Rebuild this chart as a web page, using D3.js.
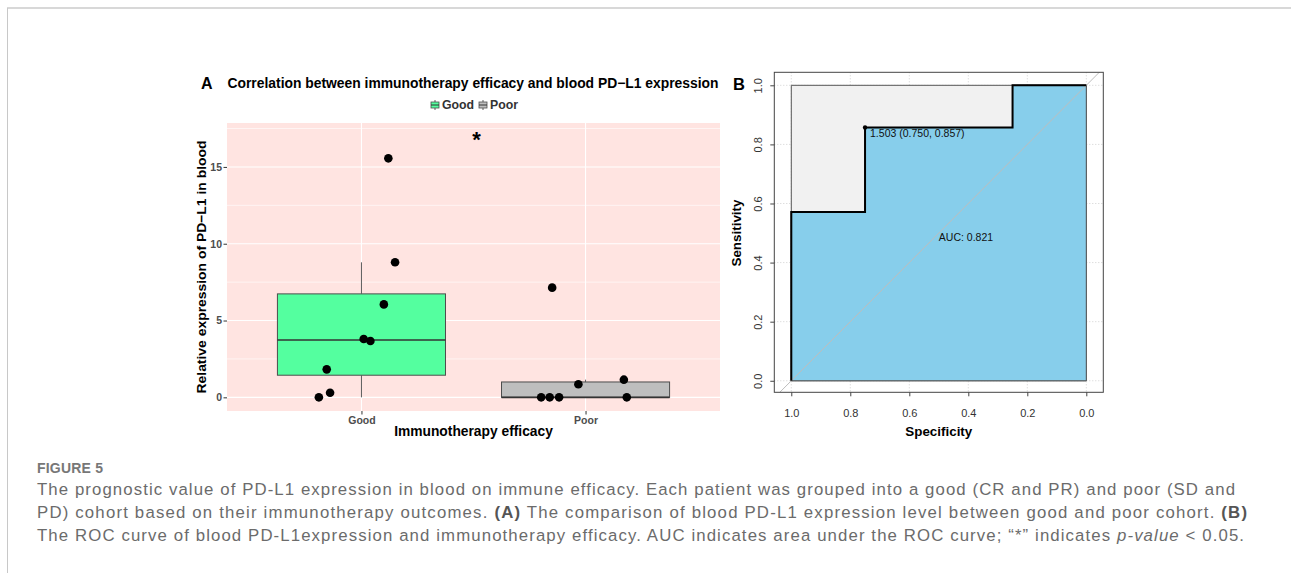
<!DOCTYPE html>
<html>
<head>
<meta charset="utf-8">
<script src="https://cdn.jsdelivr.net/npm/d3@7"></script>
<style>
  body { margin: 0; background: #fff; }
  svg { display: block; }
  text { font-family: Arial, "Liberation Sans", sans-serif; }
</style>
</head>
<body>
<svg id="fig" width="1291" height="573"></svg>
<script>
// ---- data ----
const groups = ['Good', 'Poor'];
const goodValues = [0, 0.30, 1.82, 3.67, 3.80, 6.05, 8.79, 15.56];
const poorValues = [0, 0, 0, 0, 0.85, 1.15, 7.14];
// horizontal jitter of each point, in category units
const goodJitter = [-0.19, -0.14, -0.155, 0.04, 0.01, 0.10, 0.15, 0.12];
const poorJitter = [-0.198, -0.16, -0.118, 0.184, -0.032, 0.171, -0.149];
const yTicksA = [0, 5, 10, 15];
const yMinorA = [2.5, 7.5, 12.5, 17.5];
const sigLabel = '*';
const sigValue = 17.1;

const rocSpec = [1, 1, 0.75, 0.75, 0.25, 0.25, 0];
const rocSens = [0, 0.571, 0.571, 0.857, 0.857, 1, 1];
const rocTicks = [0, 0.2, 0.4, 0.6, 0.8, 1.0];
const bestThreshold = { label: '1.503', spec: 0.750, sens: 0.857 };
const aucValue = 0.821;

const boxFill = { Good: '#54FF9F', Poor: '#BEBEBE' };

const svg = d3.select('#fig');

// page frame
svg.append('line').attr('x1', 7).attr('x2', 1291).attr('y1', 8).attr('y2', 8)
  .attr('stroke', '#d8d8d8').attr('stroke-width', 2);
svg.append('line').attr('x1', 7.5).attr('x2', 7.5).attr('y1', 8).attr('y2', 573)
  .attr('stroke', '#c8c8c8').attr('stroke-width', 1);

// ================= Panel A : boxplot =================
const A = { left: 227, right: 720, top: 123, bottom: 411 };
const xA = d3.scalePoint().domain(groups).range([A.left, A.right]).padding(0.6);
const yA = d3.scaleLinear().domain([-0.89, 17.86]).range([A.bottom, A.top]);
const step = xA.step();
const gA = svg.append('g');

gA.append('rect')
  .attr('x', A.left).attr('y', A.top)
  .attr('width', A.right - A.left).attr('height', A.bottom - A.top)
  .attr('fill', '#FFE4E1');

gA.selectAll('line.minor').data(yMinorA).join('line')
  .attr('class', 'minor')
  .attr('x1', A.left).attr('x2', A.right)
  .attr('y1', d => yA(d)).attr('y2', d => yA(d))
  .attr('stroke', '#fff').attr('stroke-width', 0.6);
gA.selectAll('line.major').data(yTicksA).join('line')
  .attr('class', 'major')
  .attr('x1', A.left).attr('x2', A.right)
  .attr('y1', d => yA(d)).attr('y2', d => yA(d))
  .attr('stroke', '#fff').attr('stroke-width', 1.1);
gA.selectAll('line.vgrid').data(groups).join('line')
  .attr('class', 'vgrid')
  .attr('x1', d => xA(d)).attr('x2', d => xA(d))
  .attr('y1', A.top).attr('y2', A.bottom)
  .attr('stroke', '#fff').attr('stroke-width', 1.1);

const series = [
  { name: 'Good', values: goodValues, jitter: goodJitter },
  { name: 'Poor', values: poorValues, jitter: poorJitter },
];

series.forEach(s => {
  const v = s.values.slice().sort(d3.ascending);
  const q1 = d3.quantile(v, 0.25), med = d3.quantile(v, 0.5), q3 = d3.quantile(v, 0.75);
  const iqr = q3 - q1;
  const hi = d3.max(v.filter(d => d <= q3 + 1.5 * iqr));
  const lo = d3.min(v.filter(d => d >= q1 - 1.5 * iqr));
  const cx = xA(s.name);
  const bw = step * 0.75;
  const g = gA.append('g');
  g.append('line').attr('x1', cx).attr('x2', cx).attr('y1', yA(q3)).attr('y2', yA(hi))
    .attr('stroke', '#333').attr('stroke-width', 0.8);
  g.append('line').attr('x1', cx).attr('x2', cx).attr('y1', yA(q1)).attr('y2', yA(lo))
    .attr('stroke', '#333').attr('stroke-width', 0.8);
  g.append('rect')
    .attr('x', cx - bw / 2).attr('width', bw)
    .attr('y', yA(q3)).attr('height', Math.max(0, yA(q1) - yA(q3)))
    .attr('fill', boxFill[s.name]).attr('stroke', '#4d4d4d').attr('stroke-width', 1);
  g.append('line').attr('x1', cx - bw / 2).attr('x2', cx + bw / 2)
    .attr('y1', yA(med)).attr('y2', yA(med))
    .attr('stroke', '#333').attr('stroke-width', 1.6);
});

series.forEach(s => {
  gA.append('g').selectAll('circle').data(s.values).join('circle')
    .attr('cx', (d, i) => xA(s.name) + s.jitter[i] * step)
    .attr('cy', d => yA(d))
    .attr('r', 4.3)
    .attr('fill', '#000');
});

gA.append('text')
  .attr('x', (xA('Good') + xA('Poor')) / 2 + 3)
  .attr('y', yA(sigValue))
  .attr('dy', '0.57em')
  .attr('text-anchor', 'middle')
  .attr('font-size', 22).attr('font-weight', 'bold')
  .text(sigLabel);

// axes A
const axLeftA = gA.append('g').attr('transform', `translate(${A.left},0)`)
  .call(d3.axisLeft(yA).tickValues(yTicksA).tickSize(3.5).tickPadding(1.5));
axLeftA.select('.domain').remove();
axLeftA.selectAll('line').attr('stroke', '#333');
axLeftA.selectAll('text').attr('font-size', 10.5).attr('font-weight', 'bold')
  .attr('fill', '#4d4d4d').attr('font-family', 'Arial, "Liberation Sans", sans-serif');

const axBotA = gA.append('g').attr('transform', `translate(0,${A.bottom})`)
  .call(d3.axisBottom(xA).tickSize(3.5).tickPadding(2.5));
axBotA.select('.domain').remove();
axBotA.selectAll('line').attr('stroke', '#333');
axBotA.selectAll('text').attr('font-size', 10.5).attr('font-weight', 'bold')
  .attr('fill', '#4d4d4d').attr('font-family', 'Arial, "Liberation Sans", sans-serif');

gA.append('text')
  .attr('x', (A.left + A.right) / 2).attr('y', 436)
  .attr('text-anchor', 'middle').attr('font-size', 13.8).attr('font-weight', 'bold')
  .text('Immunotherapy efficacy');

gA.append('text')
  .attr('transform', `translate(206,${(A.top + A.bottom) / 2}) rotate(-90)`)
  .attr('text-anchor', 'middle').attr('font-size', 13.4).attr('font-weight', 'bold')
  .attr('textLength', 253).attr('lengthAdjust', 'spacingAndGlyphs')
  .text('Relative expression of PD\u2212L1 in blood');

gA.append('text').attr('x', 201).attr('y', 89)
  .attr('font-size', 16).attr('font-weight', 'bold').text('A');
gA.append('text').attr('x', 227.5).attr('y', 88)
  .attr('font-size', 13.8).attr('font-weight', 'bold')
  .attr('textLength', 491).attr('lengthAdjust', 'spacingAndGlyphs')
  .text('Correlation between immunotherapy efficacy and blood PD\u2212L1 expression');

// legend
const legendX = { Good: 431, Poor: 479 };
groups.forEach(name => {
  const kx = legendX[name], ky = 105;
  const lg = gA.append('g');
  lg.append('line').attr('x1', kx + 4).attr('x2', kx + 4).attr('y1', ky - 5).attr('y2', ky + 5)
    .attr('stroke', '#333').attr('stroke-width', 0.8);
  lg.append('rect').attr('x', kx).attr('y', ky - 3).attr('width', 8).attr('height', 6)
    .attr('fill', boxFill[name]).attr('stroke', '#4d4d4d').attr('stroke-width', 0.8);
  lg.append('line').attr('x1', kx).attr('x2', kx + 8).attr('y1', ky).attr('y2', ky)
    .attr('stroke', '#333').attr('stroke-width', 1);
  lg.append('text').attr('x', kx + 11).attr('y', ky + 4.3)
    .attr('font-size', 12.3).attr('font-weight', 'bold').attr('fill', '#333').text(name);
});

// ================= Panel B : ROC =================
const B = { left: 774.3, right: 1103.3, top: 72.3, bottom: 392.3 };
const xB = d3.scaleLinear().domain([1.0576, -0.0576]).range([B.left, B.right]);
const yB = d3.scaleLinear().domain([-0.039, 1.044]).range([B.bottom, B.top]);
const gB = svg.append('g');

gB.append('clipPath').attr('id', 'clipB').append('rect')
  .attr('x', B.left).attr('y', B.top).attr('width', B.right - B.left).attr('height', B.bottom - B.top);

gB.selectAll('line.vg').data(rocTicks).join('line')
  .attr('x1', d => xB(d)).attr('x2', d => xB(d)).attr('y1', B.top).attr('y2', B.bottom)
  .attr('stroke', '#d0d0d0').attr('stroke-dasharray', '1,2');
gB.selectAll('line.hg').data(rocTicks).join('line')
  .attr('y1', d => yB(d)).attr('y2', d => yB(d)).attr('x1', B.left).attr('x2', B.right)
  .attr('stroke', '#d0d0d0').attr('stroke-dasharray', '1,2');

// max-AUC square
const maxPoly = [[1, 0], [1, 1], [0, 1], [0, 0]];
gB.append('path')
  .attr('d', d3.line().x(d => xB(d[0])).y(d => yB(d[1]))(maxPoly) + 'Z')
  .attr('fill', '#F1F1F1').attr('stroke', '#555').attr('stroke-width', 1);

// AUC polygon
const rocPts = rocSpec.map((s, i) => [s, rocSens[i]]);
const aucPoly = rocPts.concat([[0, 0], [1, 0]]);
gB.append('path')
  .attr('d', d3.line().x(d => xB(d[0])).y(d => yB(d[1]))(aucPoly) + 'Z')
  .attr('fill', '#87CEEB').attr('stroke', '#555').attr('stroke-width', 1);

// chance diagonal
gB.append('line')
  .attr('clip-path', 'url(#clipB)')
  .attr('x1', xB(1.1)).attr('y1', yB(-0.1)).attr('x2', xB(-0.1)).attr('y2', yB(1.1))
  .attr('stroke', '#BDBDBD').attr('stroke-width', 1);

// ROC curve
gB.append('path')
  .attr('d', d3.line().x(d => xB(d[0])).y(d => yB(d[1]))(rocPts))
  .attr('fill', 'none').attr('stroke', '#000').attr('stroke-width', 2);

gB.append('circle').attr('cx', xB(bestThreshold.spec)).attr('cy', yB(bestThreshold.sens))
  .attr('r', 2.2).attr('fill', '#000');
gB.append('text')
  .attr('x', xB(bestThreshold.spec) + 5).attr('y', yB(bestThreshold.sens) + 9.5)
  .attr('font-size', 10.5).attr('fill', '#111')
  .text(`${bestThreshold.label} (${bestThreshold.spec.toFixed(3)}, ${bestThreshold.sens.toFixed(3)})`);

gB.append('text')
  .attr('x', xB(0.5)).attr('y', yB(0.5) + 8)
  .attr('font-size', 10.5).attr('fill', '#111')
  .text(`AUC: ${aucValue.toFixed(3)}`);

gB.append('rect')
  .attr('x', B.left).attr('y', B.top).attr('width', B.right - B.left).attr('height', B.bottom - B.top)
  .attr('fill', 'none').attr('stroke', '#444').attr('stroke-width', 1);

const fmt = d3.format('.1f');
const axBotB = gB.append('g').attr('transform', `translate(0,${B.bottom})`)
  .call(d3.axisBottom(xB).tickValues(rocTicks).tickFormat(fmt).tickSize(4).tickPadding(12.5));
axBotB.select('.domain').remove();
axBotB.selectAll('line').attr('stroke', '#444');
axBotB.selectAll('text').attr('font-size', 11).attr('fill', '#333')
  .attr('font-family', 'Arial, "Liberation Sans", sans-serif');

const axLeftB = gB.append('g').attr('transform', `translate(${B.left},0)`)
  .call(d3.axisLeft(yB).tickValues(rocTicks).tickFormat(fmt).tickSize(4));
axLeftB.select('.domain').remove();
axLeftB.selectAll('line').attr('stroke', '#444');
axLeftB.selectAll('text')
  .attr('x', 0).attr('y', -12.6).attr('dy', 0)
  .attr('text-anchor', 'middle').attr('transform', 'rotate(-90)')
  .attr('font-size', 11).attr('fill', '#333')
  .attr('font-family', 'Arial, "Liberation Sans", sans-serif');

gB.append('text')
  .attr('x', (xB(1) + xB(0)) / 2).attr('y', 435.5)
  .attr('text-anchor', 'middle').attr('font-size', 13.4).attr('font-weight', 'bold')
  .text('Specificity');
gB.append('text')
  .attr('transform', `translate(740.5,${(yB(0) + yB(1)) / 2}) rotate(-90)`)
  .attr('text-anchor', 'middle').attr('font-size', 13.4).attr('font-weight', 'bold')
  .text('Sensitivity');
gB.append('text').attr('x', 733).attr('y', 90)
  .attr('font-size', 16.5).attr('font-weight', 'bold').text('B');

// ================= Caption =================
const capFont = 'Lato, "Open Sans", sans-serif';
const cap = svg.append('g').attr('fill', '#6b6b6b');
cap.append('text').attr('x', 37).attr('y', 473.3)
  .attr('font-family', capFont).attr('font-size', 14).attr('font-weight', 'bold')
  .attr('fill', '#777').attr('letter-spacing', 0.2).text('FIGURE 5');

const captionLines = [
  { w: 1198, parts: [['The prognostic value of PD-L1 expression in blood on immune efficacy. Each patient was grouped into a good (CR and PR) and poor (SD and', '']] },
  { w: 1210, parts: [['PD) cohort based on their immunotherapy outcomes. ', ''], ['(A)', 'b'], [' The comparison of blood PD-L1 expression level between good and poor cohort. ', ''], ['(B)', 'b']] },
  { w: 1207, parts: [['The ROC curve of blood PD-L1expression and immunotherapy efficacy. AUC indicates area under the ROC curve; \u201c*\u201d indicates ', ''], ['p-value', 'i'], [' < 0.05.', '']] },
];
const capBase = [495, 518, 541];
captionLines.forEach((ln, i) => {
  const t = cap.append('text').attr('x', 37).attr('y', capBase[i])
    .attr('font-family', capFont).attr('font-size', 16.8)
    .attr('textLength', ln.w).attr('lengthAdjust', 'spacing')
    .attr('xml:space', 'preserve');
  ln.parts.forEach(([str, st]) => {
    const ts = t.append('tspan').text(str);
    if (st === 'b') ts.attr('font-weight', 'bold').attr('fill', '#555');
    if (st === 'i') ts.attr('font-style', 'italic');
  });
});
</script>
</body>
</html>
